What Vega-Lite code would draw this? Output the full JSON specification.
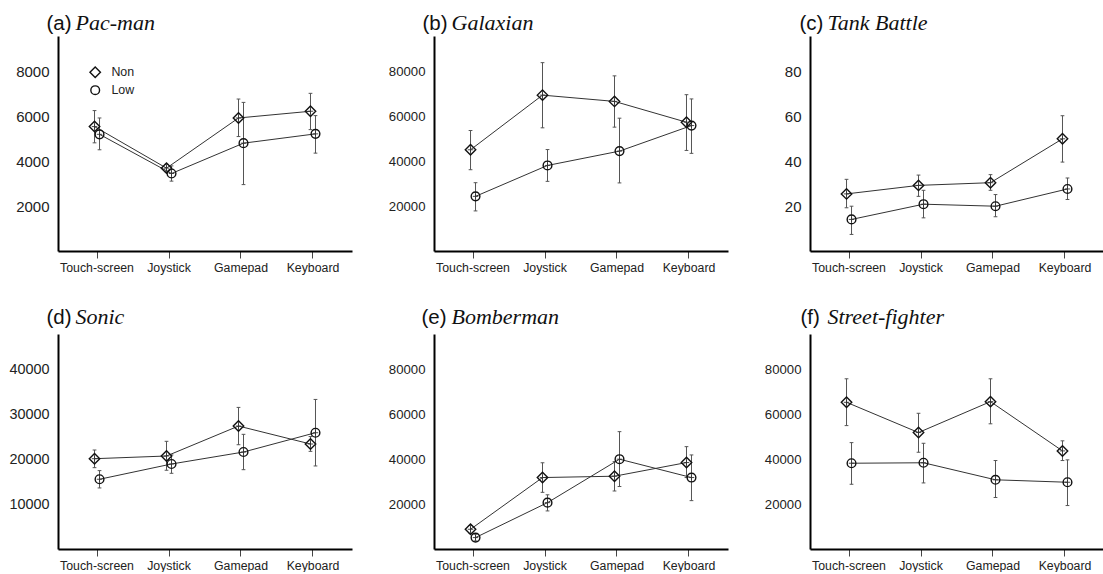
{
  "$schema": "https://vega.github.io/schema/vega-lite/v6.json",
  "padding": {"left": 8, "top": 11, "right": 0, "bottom": 0},
  "data": {"values": [
    {"p":"a","device":"Touch-screen","group":"Non","mean":5555,"lo":4830,"hi":6270},
    {"p":"a","device":"Touch-screen","group":"Low","mean":5210,"lo":4520,"hi":5940},
    {"p":"a","device":"Joystick","group":"Non","mean":3700,"lo":3540,"hi":3870},
    {"p":"a","device":"Joystick","group":"Low","mean":3460,"lo":3120,"hi":3800},
    {"p":"a","device":"Gamepad","group":"Non","mean":5940,"lo":5110,"hi":6785},
    {"p":"a","device":"Gamepad","group":"Low","mean":4815,"lo":2965,"hi":6635},
    {"p":"a","device":"Keyboard","group":"Non","mean":6240,"lo":5420,"hi":7040},
    {"p":"a","device":"Keyboard","group":"Low","mean":5230,"lo":4370,"hi":6045},
    {"p":"b","device":"Touch-screen","group":"Non","mean":45200,"lo":36300,"hi":53800},
    {"p":"b","device":"Touch-screen","group":"Low","mean":24400,"lo":17900,"hi":30500},
    {"p":"b","device":"Joystick","group":"Non","mean":69600,"lo":55000,"hi":84100},
    {"p":"b","device":"Joystick","group":"Low","mean":38200,"lo":31100,"hi":45300},
    {"p":"b","device":"Gamepad","group":"Non","mean":66800,"lo":55300,"hi":78200},
    {"p":"b","device":"Gamepad","group":"Low","mean":44600,"lo":30400,"hi":59300},
    {"p":"b","device":"Keyboard","group":"Non","mean":57500,"lo":44900,"hi":69800},
    {"p":"b","device":"Keyboard","group":"Low","mean":56000,"lo":43600,"hi":67900},
    {"p":"c","device":"Touch-screen","group":"Non","mean":25.5,"lo":19.3,"hi":32.0},
    {"p":"c","device":"Touch-screen","group":"Low","mean":14.1,"lo":7.4,"hi":20.0},
    {"p":"c","device":"Joystick","group":"Non","mean":29.3,"lo":24.4,"hi":33.9},
    {"p":"c","device":"Joystick","group":"Low","mean":20.9,"lo":14.8,"hi":27.1},
    {"p":"c","device":"Gamepad","group":"Non","mean":30.5,"lo":27.1,"hi":34.1},
    {"p":"c","device":"Gamepad","group":"Low","mean":20.0,"lo":15.3,"hi":25.2},
    {"p":"c","device":"Keyboard","group":"Non","mean":50.1,"lo":39.7,"hi":60.4},
    {"p":"c","device":"Keyboard","group":"Low","mean":27.7,"lo":23.0,"hi":32.6},
    {"p":"d","device":"Touch-screen","group":"Non","mean":20160,"lo":18160,"hi":22100},
    {"p":"d","device":"Touch-screen","group":"Low","mean":15570,"lo":13630,"hi":17500},
    {"p":"d","device":"Joystick","group":"Non","mean":20760,"lo":17580,"hi":24040},
    {"p":"d","device":"Joystick","group":"Low","mean":18980,"lo":16900,"hi":21000},
    {"p":"d","device":"Gamepad","group":"Non","mean":27450,"lo":23280,"hi":31610},
    {"p":"d","device":"Gamepad","group":"Low","mean":21650,"lo":17710,"hi":25600},
    {"p":"d","device":"Keyboard","group":"Non","mean":23440,"lo":21800,"hi":25100},
    {"p":"d","device":"Keyboard","group":"Low","mean":25960,"lo":18540,"hi":33390},
    {"p":"e","device":"Touch-screen","group":"Non","mean":8800,"lo":7000,"hi":10500},
    {"p":"e","device":"Touch-screen","group":"Low","mean":5100,"lo":3600,"hi":6600},
    {"p":"e","device":"Joystick","group":"Non","mean":31900,"lo":25300,"hi":38500},
    {"p":"e","device":"Joystick","group":"Low","mean":20700,"lo":17000,"hi":24200},
    {"p":"e","device":"Gamepad","group":"Non","mean":32500,"lo":25900,"hi":39000},
    {"p":"e","device":"Gamepad","group":"Low","mean":40100,"lo":27900,"hi":52400},
    {"p":"e","device":"Keyboard","group":"Non","mean":38600,"lo":31900,"hi":45700},
    {"p":"e","device":"Keyboard","group":"Low","mean":31900,"lo":21600,"hi":42000},
    {"p":"f","device":"Touch-screen","group":"Non","mean":65500,"lo":55100,"hi":76000},
    {"p":"f","device":"Touch-screen","group":"Low","mean":38300,"lo":28900,"hi":47500},
    {"p":"f","device":"Joystick","group":"Non","mean":52000,"lo":43200,"hi":60600},
    {"p":"f","device":"Joystick","group":"Low","mean":38500,"lo":29500,"hi":47200},
    {"p":"f","device":"Gamepad","group":"Non","mean":65800,"lo":55900,"hi":76000},
    {"p":"f","device":"Gamepad","group":"Low","mean":30900,"lo":23000,"hi":39500},
    {"p":"f","device":"Keyboard","group":"Non","mean":43800,"lo":39500,"hi":48300},
    {"p":"f","device":"Keyboard","group":"Low","mean":29800,"lo":19400,"hi":39800}
  ]},
  "columns": 3,
  "bounds": "flush",
  "spacing": {"row": 83, "column": 82},
  "resolve": {"scale": {"shape": "independent"}, "legend": {"shape": "independent"}},
  "concat": [
    {
      "width": 294, "height": 215,
      "transform": [{"filter": "datum.p === 'a'"}],
      "encoding": {
        "x": {"field": "device", "type": "nominal", "sort": ["Touch-screen","Joystick","Gamepad","Keyboard"], "scale": {"paddingInner": 0, "paddingOuter": 0.042}, "axis": {"title": "Pac-man", "titleX": 17, "titleY": -222}},
        "xOffset": {"field": "group", "type": "nominal", "scale": {"type": "point", "domain": ["Non","Low"], "range": [33.5, 38.5], "padding": 0}}
      },
      "layer": [
        {"mark": {"type": "rule", "color": "#555", "strokeWidth": 1}, "encoding": {"y": {"field": "lo", "type": "quantitative", "scale": {"domain": [0, 9600], "nice": false, "zero": false}, "axis": {"values": [2000, 4000, 6000, 8000], "format": "d", "title": "(a)", "labelFontSize": 15, "titleX": -12, "titleY": -7}}, "y2": {"field": "hi"}}},
        {"mark": {"type": "point", "shape": "M-1,0L1,0", "size": 14, "color": "#555", "strokeWidth": 1, "filled": false, "opacity": 1}, "encoding": {"y": {"field": "hi", "type": "quantitative", "scale": {"domain": [0, 9600], "nice": false, "zero": false}, "axis": {"values": [2000, 4000, 6000, 8000], "format": "d", "title": "(a)", "labelFontSize": 15, "titleX": -12, "titleY": -7}}}},
        {"mark": {"type": "point", "shape": "M-1,0L1,0", "size": 14, "color": "#555", "strokeWidth": 1, "filled": false, "opacity": 1}, "encoding": {"y": {"field": "lo", "type": "quantitative", "scale": {"domain": [0, 9600], "nice": false, "zero": false}, "axis": {"values": [2000, 4000, 6000, 8000], "format": "d", "title": "(a)", "labelFontSize": 15, "titleX": -12, "titleY": -7}}}},
        {"mark": {"type": "line", "color": "#333", "strokeWidth": 1}, "encoding": {"y": {"field": "mean", "type": "quantitative", "scale": {"domain": [0, 9600], "nice": false, "zero": false}, "axis": {"values": [2000, 4000, 6000, 8000], "format": "d", "title": "(a)", "labelFontSize": 15, "titleX": -12, "titleY": -7}}, "detail": {"field": "group"}}},
        {"mark": {"type": "point", "filled": false, "color": "#111", "strokeWidth": 1.4, "size": 76, "opacity": 1},
         "encoding": {
           "y": {"field": "mean", "type": "quantitative", "scale": {"domain": [0, 9600], "nice": false, "zero": false}, "axis": {"values": [2000, 4000, 6000, 8000], "format": "d", "title": "(a)", "labelFontSize": 15, "titleX": -12, "titleY": -7}},
           "shape": {"field": "group", "type": "nominal", "scale": {"domain": ["Non","Low"], "range": ["M0,-1.2L1.2,0L0,1.2L-1.2,0Z", "M-1,0A1,1,0,1,1,1,0A1,1,0,1,1,-1,0Z"]},
             "legend": {"orient": "none", "legendX": 31, "legendY": 30, "title": null, "labelFont": "Liberation Sans", "labelFontSize": 12.4, "labelColor": "#222", "symbolSize": 76, "symbolStrokeWidth": 1.4, "symbolStrokeColor": "#111", "symbolFillColor": "transparent", "rowPadding": 2, "labelOffset": 10}}
         }},
        {"mark": {"type": "point", "shape": "M-1,0L1,0M0,-1L0,1", "size": 30, "color": "#333", "strokeWidth": 0.9, "filled": false, "opacity": 1}, "encoding": {"y": {"field": "mean", "type": "quantitative", "scale": {"domain": [0, 9600], "nice": false, "zero": false}, "axis": {"values": [2000, 4000, 6000, 8000], "format": "d", "title": "(a)", "labelFontSize": 15, "titleX": -12, "titleY": -7}}}}
      ]
    },
    {
      "width": 294, "height": 215,
      "transform": [{"filter": "datum.p === 'b'"}],
      "encoding": {
        "x": {"field": "device", "type": "nominal", "sort": ["Touch-screen","Joystick","Gamepad","Keyboard"], "scale": {"paddingInner": 0, "paddingOuter": 0.042}, "axis": {"title": "Galaxian", "titleX": 17, "titleY": -222}},
        "xOffset": {"field": "group", "type": "nominal", "scale": {"type": "point", "domain": ["Non","Low"], "range": [33.5, 38.5], "padding": 0}}
      },
      "layer": [
        {"mark": {"type": "rule", "color": "#555", "strokeWidth": 1}, "encoding": {"y": {"field": "lo", "type": "quantitative", "scale": {"domain": [0, 96000], "nice": false, "zero": false}, "axis": {"values": [20000, 40000, 60000, 80000], "format": "d", "title": "(b)", "labelFontSize": 13.2, "titleX": -12, "titleY": -7}}, "y2": {"field": "hi"}}},
        {"mark": {"type": "point", "shape": "M-1,0L1,0", "size": 14, "color": "#555", "strokeWidth": 1, "filled": false, "opacity": 1}, "encoding": {"y": {"field": "hi", "type": "quantitative", "scale": {"domain": [0, 96000], "nice": false, "zero": false}, "axis": {"values": [20000, 40000, 60000, 80000], "format": "d", "title": "(b)", "labelFontSize": 13.2, "titleX": -12, "titleY": -7}}}},
        {"mark": {"type": "point", "shape": "M-1,0L1,0", "size": 14, "color": "#555", "strokeWidth": 1, "filled": false, "opacity": 1}, "encoding": {"y": {"field": "lo", "type": "quantitative", "scale": {"domain": [0, 96000], "nice": false, "zero": false}, "axis": {"values": [20000, 40000, 60000, 80000], "format": "d", "title": "(b)", "labelFontSize": 13.2, "titleX": -12, "titleY": -7}}}},
        {"mark": {"type": "line", "color": "#333", "strokeWidth": 1}, "encoding": {"y": {"field": "mean", "type": "quantitative", "scale": {"domain": [0, 96000], "nice": false, "zero": false}, "axis": {"values": [20000, 40000, 60000, 80000], "format": "d", "title": "(b)", "labelFontSize": 13.2, "titleX": -12, "titleY": -7}}, "detail": {"field": "group"}}},
        {"mark": {"type": "point", "filled": false, "color": "#111", "strokeWidth": 1.4, "size": 76, "opacity": 1},
         "encoding": {
           "y": {"field": "mean", "type": "quantitative", "scale": {"domain": [0, 96000], "nice": false, "zero": false}, "axis": {"values": [20000, 40000, 60000, 80000], "format": "d", "title": "(b)", "labelFontSize": 13.2, "titleX": -12, "titleY": -7}},
           "shape": {"field": "group", "type": "nominal", "scale": {"domain": ["Non","Low"], "range": ["M0,-1.2L1.2,0L0,1.2L-1.2,0Z", "M-1,0A1,1,0,1,1,1,0A1,1,0,1,1,-1,0Z"]}, "legend": null}
         }},
        {"mark": {"type": "point", "shape": "M-1,0L1,0M0,-1L0,1", "size": 30, "color": "#333", "strokeWidth": 0.9, "filled": false, "opacity": 1}, "encoding": {"y": {"field": "mean", "type": "quantitative", "scale": {"domain": [0, 96000], "nice": false, "zero": false}, "axis": {"values": [20000, 40000, 60000, 80000], "format": "d", "title": "(b)", "labelFontSize": 13.2, "titleX": -12, "titleY": -7}}}}
      ]
    },
    {
      "width": 294, "height": 215,
      "transform": [{"filter": "datum.p === 'c'"}],
      "encoding": {
        "x": {"field": "device", "type": "nominal", "sort": ["Touch-screen","Joystick","Gamepad","Keyboard"], "scale": {"paddingInner": 0, "paddingOuter": 0.042}, "axis": {"title": "Tank Battle", "titleX": 17, "titleY": -222}},
        "xOffset": {"field": "group", "type": "nominal", "scale": {"type": "point", "domain": ["Non","Low"], "range": [33.5, 38.5], "padding": 0}}
      },
      "layer": [
        {"mark": {"type": "rule", "color": "#555", "strokeWidth": 1}, "encoding": {"y": {"field": "lo", "type": "quantitative", "scale": {"domain": [0, 96], "nice": false, "zero": false}, "axis": {"values": [20, 40, 60, 80], "format": "d", "title": "(c)", "labelFontSize": 15, "titleX": -11, "titleY": -7}}, "y2": {"field": "hi"}}},
        {"mark": {"type": "point", "shape": "M-1,0L1,0", "size": 14, "color": "#555", "strokeWidth": 1, "filled": false, "opacity": 1}, "encoding": {"y": {"field": "hi", "type": "quantitative", "scale": {"domain": [0, 96], "nice": false, "zero": false}, "axis": {"values": [20, 40, 60, 80], "format": "d", "title": "(c)", "labelFontSize": 15, "titleX": -11, "titleY": -7}}}},
        {"mark": {"type": "point", "shape": "M-1,0L1,0", "size": 14, "color": "#555", "strokeWidth": 1, "filled": false, "opacity": 1}, "encoding": {"y": {"field": "lo", "type": "quantitative", "scale": {"domain": [0, 96], "nice": false, "zero": false}, "axis": {"values": [20, 40, 60, 80], "format": "d", "title": "(c)", "labelFontSize": 15, "titleX": -11, "titleY": -7}}}},
        {"mark": {"type": "line", "color": "#333", "strokeWidth": 1}, "encoding": {"y": {"field": "mean", "type": "quantitative", "scale": {"domain": [0, 96], "nice": false, "zero": false}, "axis": {"values": [20, 40, 60, 80], "format": "d", "title": "(c)", "labelFontSize": 15, "titleX": -11, "titleY": -7}}, "detail": {"field": "group"}}},
        {"mark": {"type": "point", "filled": false, "color": "#111", "strokeWidth": 1.4, "size": 76, "opacity": 1},
         "encoding": {
           "y": {"field": "mean", "type": "quantitative", "scale": {"domain": [0, 96], "nice": false, "zero": false}, "axis": {"values": [20, 40, 60, 80], "format": "d", "title": "(c)", "labelFontSize": 15, "titleX": -11, "titleY": -7}},
           "shape": {"field": "group", "type": "nominal", "scale": {"domain": ["Non","Low"], "range": ["M0,-1.2L1.2,0L0,1.2L-1.2,0Z", "M-1,0A1,1,0,1,1,1,0A1,1,0,1,1,-1,0Z"]}, "legend": null}
         }},
        {"mark": {"type": "point", "shape": "M-1,0L1,0M0,-1L0,1", "size": 30, "color": "#333", "strokeWidth": 0.9, "filled": false, "opacity": 1}, "encoding": {"y": {"field": "mean", "type": "quantitative", "scale": {"domain": [0, 96], "nice": false, "zero": false}, "axis": {"values": [20, 40, 60, 80], "format": "d", "title": "(c)", "labelFontSize": 15, "titleX": -11, "titleY": -7}}}}
      ]
    },
    {
      "width": 294, "height": 215,
      "transform": [{"filter": "datum.p === 'd'"}],
      "encoding": {
        "x": {"field": "device", "type": "nominal", "sort": ["Touch-screen","Joystick","Gamepad","Keyboard"], "scale": {"paddingInner": 0, "paddingOuter": 0.042}, "axis": {"title": "Sonic", "titleX": 17, "titleY": -226}},
        "xOffset": {"field": "group", "type": "nominal", "scale": {"type": "point", "domain": ["Non","Low"], "range": [33.5, 38.5], "padding": 0}}
      },
      "layer": [
        {"mark": {"type": "rule", "color": "#555", "strokeWidth": 1}, "encoding": {"y": {"field": "lo", "type": "quantitative", "scale": {"domain": [0, 48000], "nice": false, "zero": false}, "axis": {"values": [10000, 20000, 30000, 40000], "format": "d", "title": "(d)", "labelFontSize": 14.4, "titleX": -12, "titleY": -11}}, "y2": {"field": "hi"}}},
        {"mark": {"type": "point", "shape": "M-1,0L1,0", "size": 14, "color": "#555", "strokeWidth": 1, "filled": false, "opacity": 1}, "encoding": {"y": {"field": "hi", "type": "quantitative", "scale": {"domain": [0, 48000], "nice": false, "zero": false}, "axis": {"values": [10000, 20000, 30000, 40000], "format": "d", "title": "(d)", "labelFontSize": 14.4, "titleX": -12, "titleY": -11}}}},
        {"mark": {"type": "point", "shape": "M-1,0L1,0", "size": 14, "color": "#555", "strokeWidth": 1, "filled": false, "opacity": 1}, "encoding": {"y": {"field": "lo", "type": "quantitative", "scale": {"domain": [0, 48000], "nice": false, "zero": false}, "axis": {"values": [10000, 20000, 30000, 40000], "format": "d", "title": "(d)", "labelFontSize": 14.4, "titleX": -12, "titleY": -11}}}},
        {"mark": {"type": "line", "color": "#333", "strokeWidth": 1}, "encoding": {"y": {"field": "mean", "type": "quantitative", "scale": {"domain": [0, 48000], "nice": false, "zero": false}, "axis": {"values": [10000, 20000, 30000, 40000], "format": "d", "title": "(d)", "labelFontSize": 14.4, "titleX": -12, "titleY": -11}}, "detail": {"field": "group"}}},
        {"mark": {"type": "point", "filled": false, "color": "#111", "strokeWidth": 1.4, "size": 76, "opacity": 1},
         "encoding": {
           "y": {"field": "mean", "type": "quantitative", "scale": {"domain": [0, 48000], "nice": false, "zero": false}, "axis": {"values": [10000, 20000, 30000, 40000], "format": "d", "title": "(d)", "labelFontSize": 14.4, "titleX": -12, "titleY": -11}},
           "shape": {"field": "group", "type": "nominal", "scale": {"domain": ["Non","Low"], "range": ["M0,-1.2L1.2,0L0,1.2L-1.2,0Z", "M-1,0A1,1,0,1,1,1,0A1,1,0,1,1,-1,0Z"]}, "legend": null}
         }},
        {"mark": {"type": "point", "shape": "M-1,0L1,0M0,-1L0,1", "size": 30, "color": "#333", "strokeWidth": 0.9, "filled": false, "opacity": 1}, "encoding": {"y": {"field": "mean", "type": "quantitative", "scale": {"domain": [0, 48000], "nice": false, "zero": false}, "axis": {"values": [10000, 20000, 30000, 40000], "format": "d", "title": "(d)", "labelFontSize": 14.4, "titleX": -12, "titleY": -11}}}}
      ]
    },
    {
      "width": 294, "height": 215,
      "transform": [{"filter": "datum.p === 'e'"}],
      "encoding": {
        "x": {"field": "device", "type": "nominal", "sort": ["Touch-screen","Joystick","Gamepad","Keyboard"], "scale": {"paddingInner": 0, "paddingOuter": 0.042}, "axis": {"title": "Bomberman", "titleX": 17, "titleY": -226}},
        "xOffset": {"field": "group", "type": "nominal", "scale": {"type": "point", "domain": ["Non","Low"], "range": [33.5, 38.5], "padding": 0}}
      },
      "layer": [
        {"mark": {"type": "rule", "color": "#555", "strokeWidth": 1}, "encoding": {"y": {"field": "lo", "type": "quantitative", "scale": {"domain": [0, 96000], "nice": false, "zero": false}, "axis": {"values": [20000, 40000, 60000, 80000], "format": "d", "title": "(e)", "labelFontSize": 13.2, "titleX": -13, "titleY": -11}}, "y2": {"field": "hi"}}},
        {"mark": {"type": "point", "shape": "M-1,0L1,0", "size": 14, "color": "#555", "strokeWidth": 1, "filled": false, "opacity": 1}, "encoding": {"y": {"field": "hi", "type": "quantitative", "scale": {"domain": [0, 96000], "nice": false, "zero": false}, "axis": {"values": [20000, 40000, 60000, 80000], "format": "d", "title": "(e)", "labelFontSize": 13.2, "titleX": -13, "titleY": -11}}}},
        {"mark": {"type": "point", "shape": "M-1,0L1,0", "size": 14, "color": "#555", "strokeWidth": 1, "filled": false, "opacity": 1}, "encoding": {"y": {"field": "lo", "type": "quantitative", "scale": {"domain": [0, 96000], "nice": false, "zero": false}, "axis": {"values": [20000, 40000, 60000, 80000], "format": "d", "title": "(e)", "labelFontSize": 13.2, "titleX": -13, "titleY": -11}}}},
        {"mark": {"type": "line", "color": "#333", "strokeWidth": 1}, "encoding": {"y": {"field": "mean", "type": "quantitative", "scale": {"domain": [0, 96000], "nice": false, "zero": false}, "axis": {"values": [20000, 40000, 60000, 80000], "format": "d", "title": "(e)", "labelFontSize": 13.2, "titleX": -13, "titleY": -11}}, "detail": {"field": "group"}}},
        {"mark": {"type": "point", "filled": false, "color": "#111", "strokeWidth": 1.4, "size": 76, "opacity": 1},
         "encoding": {
           "y": {"field": "mean", "type": "quantitative", "scale": {"domain": [0, 96000], "nice": false, "zero": false}, "axis": {"values": [20000, 40000, 60000, 80000], "format": "d", "title": "(e)", "labelFontSize": 13.2, "titleX": -13, "titleY": -11}},
           "shape": {"field": "group", "type": "nominal", "scale": {"domain": ["Non","Low"], "range": ["M0,-1.2L1.2,0L0,1.2L-1.2,0Z", "M-1,0A1,1,0,1,1,1,0A1,1,0,1,1,-1,0Z"]}, "legend": null}
         }},
        {"mark": {"type": "point", "shape": "M-1,0L1,0M0,-1L0,1", "size": 30, "color": "#333", "strokeWidth": 0.9, "filled": false, "opacity": 1}, "encoding": {"y": {"field": "mean", "type": "quantitative", "scale": {"domain": [0, 96000], "nice": false, "zero": false}, "axis": {"values": [20000, 40000, 60000, 80000], "format": "d", "title": "(e)", "labelFontSize": 13.2, "titleX": -13, "titleY": -11}}}}
      ]
    },
    {
      "width": 294, "height": 215,
      "transform": [{"filter": "datum.p === 'f'"}],
      "encoding": {
        "x": {"field": "device", "type": "nominal", "sort": ["Touch-screen","Joystick","Gamepad","Keyboard"], "scale": {"paddingInner": 0, "paddingOuter": 0.042}, "axis": {"title": "Street-fighter", "titleX": 17, "titleY": -226}},
        "xOffset": {"field": "group", "type": "nominal", "scale": {"type": "point", "domain": ["Non","Low"], "range": [33.5, 38.5], "padding": 0}}
      },
      "layer": [
        {"mark": {"type": "rule", "color": "#555", "strokeWidth": 1}, "encoding": {"y": {"field": "lo", "type": "quantitative", "scale": {"domain": [0, 96000], "nice": false, "zero": false}, "axis": {"values": [20000, 40000, 60000, 80000], "format": "d", "title": "(f)", "labelFontSize": 13.2, "titleX": -10, "titleY": -11}}, "y2": {"field": "hi"}}},
        {"mark": {"type": "point", "shape": "M-1,0L1,0", "size": 14, "color": "#555", "strokeWidth": 1, "filled": false, "opacity": 1}, "encoding": {"y": {"field": "hi", "type": "quantitative", "scale": {"domain": [0, 96000], "nice": false, "zero": false}, "axis": {"values": [20000, 40000, 60000, 80000], "format": "d", "title": "(f)", "labelFontSize": 13.2, "titleX": -10, "titleY": -11}}}},
        {"mark": {"type": "point", "shape": "M-1,0L1,0", "size": 14, "color": "#555", "strokeWidth": 1, "filled": false, "opacity": 1}, "encoding": {"y": {"field": "lo", "type": "quantitative", "scale": {"domain": [0, 96000], "nice": false, "zero": false}, "axis": {"values": [20000, 40000, 60000, 80000], "format": "d", "title": "(f)", "labelFontSize": 13.2, "titleX": -10, "titleY": -11}}}},
        {"mark": {"type": "line", "color": "#333", "strokeWidth": 1}, "encoding": {"y": {"field": "mean", "type": "quantitative", "scale": {"domain": [0, 96000], "nice": false, "zero": false}, "axis": {"values": [20000, 40000, 60000, 80000], "format": "d", "title": "(f)", "labelFontSize": 13.2, "titleX": -10, "titleY": -11}}, "detail": {"field": "group"}}},
        {"mark": {"type": "point", "filled": false, "color": "#111", "strokeWidth": 1.4, "size": 76, "opacity": 1},
         "encoding": {
           "y": {"field": "mean", "type": "quantitative", "scale": {"domain": [0, 96000], "nice": false, "zero": false}, "axis": {"values": [20000, 40000, 60000, 80000], "format": "d", "title": "(f)", "labelFontSize": 13.2, "titleX": -10, "titleY": -11}},
           "shape": {"field": "group", "type": "nominal", "scale": {"domain": ["Non","Low"], "range": ["M0,-1.2L1.2,0L0,1.2L-1.2,0Z", "M-1,0A1,1,0,1,1,1,0A1,1,0,1,1,-1,0Z"]}, "legend": null}
         }},
        {"mark": {"type": "point", "shape": "M-1,0L1,0M0,-1L0,1", "size": 30, "color": "#333", "strokeWidth": 0.9, "filled": false, "opacity": 1}, "encoding": {"y": {"field": "mean", "type": "quantitative", "scale": {"domain": [0, 96000], "nice": false, "zero": false}, "axis": {"values": [20000, 40000, 60000, 80000], "format": "d", "title": "(f)", "labelFontSize": 13.2, "titleX": -10, "titleY": -11}}}}
      ]
    }
  ],
  "config": {
    "view": {"stroke": null},
    "font": "Liberation Sans",
    "axisX": {"grid": false, "domainColor": "#000", "domainWidth": 2, "tickColor": "#444", "tickSize": 7, "tickWidth": 1, "labelFont": "Liberation Sans", "labelFontSize": 12.3, "labelColor": "#222", "labelPadding": 3, "labelAngle": 0, "titleFont": "Liberation Serif", "titleFontStyle": "italic", "titleFontWeight": "normal", "titleFontSize": 22, "titleColor": "#111", "titleAlign": "left", "titleBaseline": "alphabetic", "titleAnchor": "start"},
    "axisY": {"grid": false, "domainColor": "#000", "domainWidth": 2, "ticks": false, "tickSize": 0, "labelPadding": 9, "labelFont": "Liberation Sans", "labelColor": "#222", "titleFont": "Liberation Sans", "titleFontSize": 20.5, "titleFontWeight": "normal", "titleColor": "#111", "titleAngle": 0, "titleAlign": "left", "titleBaseline": "alphabetic"}
  }
}
